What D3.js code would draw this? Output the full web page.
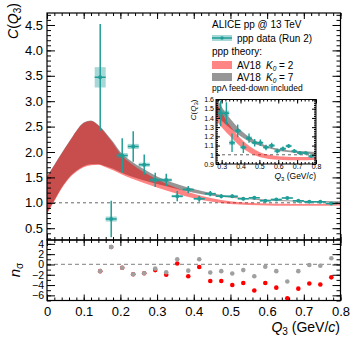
<!DOCTYPE html>
<html>
<head>
<meta charset="utf-8">
<script src="https://cdn.jsdelivr.net/npm/d3@7"></script>
<style>
  body { margin: 0; background: #fff; }
  svg { font-family: "Liberation Sans", Arial, sans-serif; }
  .axis path.domain { display: none; }
  .axis line { stroke: #000; stroke-width: 1; }
  .axis text { fill: #000; }
</style>
</head>
<body>
<div id="container"></div>
<script>
const WIDTH = 359;
const HEIGHT = 342;

// ppp data (Run 2)
const Q3 = [0.145, 0.175, 0.205, 0.235, 0.265, 0.295, 0.325, 0.355, 0.385, 0.415, 0.445,
            0.475, 0.505, 0.535, 0.565, 0.595, 0.625, 0.655, 0.685, 0.715, 0.745, 0.775];
const C_VAL = [3.47, 0.68, 1.93, 2.11, 1.75, 1.45, 1.45, 1.13, 1.26, 1.08, 1.18,
               1.13, 1.13, 1.08, 1.10, 1.04, 1.065, 1.095, 1.04, 1.02, 1.02, 0.985];
const C_STAT = [1.05, 0.36, 0.34, 0.30, 0.20, 0.14, 0.12, 0.10, 0.07, 0.06, 0.05,
                0.04, 0.035, 0.03, 0.03, 0.025, 0.025, 0.02, 0.02, 0.02, 0.015, 0.015];
const C_SYST = [0.2, 0.05, 0.05, 0.05, 0.04, 0.035, 0.03, 0.025, 0.02, 0.02, 0.02,
                0.015, 0.015, 0.015, 0.015, 0.015, 0.015, 0.015, 0.015, 0.015, 0.015, 0.015];
const BIN_HALF = 0.015;

// theory bands
const BAND_Q = [0, 0.02, 0.04, 0.06, 0.08, 0.10, 0.12, 0.14, 0.16, 0.18, 0.20, 0.23,
                0.26, 0.30, 0.35, 0.40, 0.45, 0.50, 0.55, 0.60, 0.65, 0.70, 0.75, 0.80];
const K7_HI = [1.53, 1.75, 1.98, 2.2, 2.42, 2.58, 2.62, 2.53, 2.38, 2.2, 2.0, 1.82,
               1.68, 1.52, 1.38, 1.27, 1.19, 1.13, 1.09, 1.065, 1.05, 1.04, 1.035, 1.03];
const K7_LO = [0.8, 1.05, 1.3, 1.5, 1.63, 1.72, 1.76, 1.76, 1.72, 1.67, 1.6, 1.52,
               1.45, 1.37, 1.28, 1.2, 1.14, 1.1, 1.07, 1.045, 1.03, 1.02, 1.01, 1.005];
const K2_HI = [1.51, 1.74, 1.97, 2.19, 2.41, 2.57, 2.61, 2.52, 2.36, 2.17, 1.96, 1.77,
               1.62, 1.46, 1.3, 1.18, 1.09, 1.03, 1.0, 0.985, 0.98, 0.975, 0.975, 0.975];
const K2_LO = [0.78, 1.03, 1.28, 1.48, 1.61, 1.7, 1.74, 1.75, 1.7, 1.64, 1.57, 1.48,
               1.4, 1.3, 1.19, 1.09, 1.02, 0.975, 0.955, 0.945, 0.94, 0.94, 0.94, 0.945];

// n_sigma deviations
const NSIG_K7 = [-1.3, 3.4, -0.65, -1.9, -1.7, -0.8, -1.5, 1.0, -1.2, 1.0, -1.55,
                 -1.3, -1.75, -1.1, -2.3, -0.45, -1.3, -3.3, -1.3, -0.1, -0.25, 1.2];
const NSIG_K2 = [-1.3, 3.4, -0.65, -1.9, -1.7, -1.1, -2.0, 0.2, -2.3, -0.5, -3.2,
                 -3.2, -4.0, -3.6, -5.05, -3.6, -4.5, -6.55, -4.7, -3.7, -3.9, -2.5];

const X_TICKS = [0, 0.1, 0.2, 0.3, 0.4, 0.5, 0.6, 0.7, 0.8];
const Y_TICKS = [0.5, 1.0, 1.5, 2.0, 2.5, 3.0, 3.5, 4.0, 4.5];
const N_TICKS = [-6, -4, -2, 0, 2, 4];
const INSET_X_TICKS = [0.3, 0.4, 0.5, 0.6, 0.7, 0.8];
const INSET_Y_TICKS = [0.9, 1.0, 1.1, 1.2, 1.3, 1.4, 1.5, 1.6];

const TEAL = '#1f9e98';
const GRAY = '#969696';

const svg = d3.select('#container').append('svg')
    .attr('width', WIDTH)
    .attr('height', HEIGHT);

// Scales
const x = d3.scaleLinear().domain([0, 0.8]).range([47, 340.5]);
const y = d3.scaleLinear().domain([0.268, 4.736]).range([240, 13]);
const yn = d3.scaleLinear().domain([-7, 4.75]).range([300.5, 240]);
const xi = d3.scaleLinear().domain([0.27, 0.8]).range([216, 316]);
const yi = d3.scaleLinear().domain([0.9, 1.6]).range([164, 99.5]);

const data = Q3.map((q, i) => ({ q, c: C_VAL[i], stat: C_STAT[i], syst: C_SYST[i],
                                  n7: NSIG_K7[i], n2: NSIG_K2[i] }));
const k7 = BAND_Q.map((q, i) => ({ q, lo: K7_LO[i], hi: K7_HI[i] }));
const k2 = BAND_Q.map((q, i) => ({ q, lo: K2_LO[i], hi: K2_HI[i] }));

const defs = svg.append('defs');
function clip(id, sx, sy) {
  defs.append('clipPath').attr('id', id).append('rect')
      .attr('x', sx.range()[0]).attr('y', sy.range()[1])
      .attr('width', sx.range()[1] - sx.range()[0])
      .attr('height', sy.range()[0] - sy.range()[1]);
}
clip('clipMain', x, y);
clip('clipLow', x, yn);
clip('clipInset', xi, yi);

// draws bands, dashed line and data into a panel
function drawPanel(g, sx, sy, r, lw) {
  g.append('line')
      .attr('x1', sx.range()[0]).attr('x2', sx.range()[1])
      .attr('y1', sy(1)).attr('y2', sy(1))
      .attr('stroke', '#666').attr('stroke-dasharray', '3,3').attr('stroke-width', 1);
  const area = d3.area().curve(d3.curveMonotoneX)
      .x(d => sx(d.q)).y0(d => sy(d.lo)).y1(d => sy(d.hi));
  g.append('path').datum(k7).attr('d', area).attr('fill', GRAY);
  g.append('path').datum(k2).attr('d', area).attr('fill', '#ff0000').attr('fill-opacity', 0.48);
  g.selectAll('rect.syst').data(data).join('rect')
      .attr('class', 'syst')
      .attr('x', d => sx(d.q - BIN_HALF))
      .attr('width', d => sx(d.q + BIN_HALF) - sx(d.q - BIN_HALF))
      .attr('y', d => sy(d.c + d.syst))
      .attr('height', d => sy(d.c - d.syst) - sy(d.c + d.syst))
      .attr('fill', TEAL).attr('fill-opacity', 0.4);
  g.selectAll('line.stat').data(data).join('line')
      .attr('class', 'stat')
      .attr('x1', d => sx(d.q)).attr('x2', d => sx(d.q))
      .attr('y1', d => sy(d.c - d.stat)).attr('y2', d => sy(d.c + d.stat))
      .attr('stroke', TEAL).attr('stroke-width', lw);
  g.selectAll('line.bin').data(data).join('line')
      .attr('class', 'bin')
      .attr('x1', d => sx(d.q - BIN_HALF)).attr('x2', d => sx(d.q + BIN_HALF))
      .attr('y1', d => sy(d.c)).attr('y2', d => sy(d.c))
      .attr('stroke', TEAL).attr('stroke-width', lw);
  g.selectAll('circle.pt').data(data).join('circle')
      .attr('class', 'pt')
      .attr('cx', d => sx(d.q)).attr('cy', d => sy(d.c)).attr('r', r)
      .attr('fill', TEAL);
}

// frame with ROOT style ticks on all sides
function frame(sx, sy, xt, yt, opt) {
  const g = svg.append('g');
  const h = sy.range()[0] - sy.range()[1];
  const w = sx.range()[1] - sx.range()[0];
  const addAxis = (axis, tr, size) => g.append('g').attr('class', 'axis')
      .attr('transform', tr).call(axis)
      .selectAll('text').style('font-size', (size || opt.font) + 'px');
  // bottom & top
  addAxis(d3.axisBottom(sx).tickValues(xt.major).tickSize(-opt.xMaj)
      .tickFormat(opt.xLabels ? opt.xFmt : '').tickPadding(opt.xPad),
      'translate(0,' + sy.range()[0] + ')');
  addAxis(d3.axisBottom(sx).tickValues(xt.minor).tickSize(-opt.xMaj / 2).tickFormat(''),
      'translate(0,' + sy.range()[0] + ')');
  addAxis(d3.axisTop(sx).tickValues(xt.major).tickSize(-opt.xMaj).tickFormat(''),
      'translate(0,' + sy.range()[1] + ')');
  addAxis(d3.axisTop(sx).tickValues(xt.minor).tickSize(-opt.xMaj / 2).tickFormat(''),
      'translate(0,' + sy.range()[1] + ')');
  // left & right
  addAxis(d3.axisLeft(sy).tickValues(yt.major).tickSize(-opt.yMaj)
      .tickFormat(opt.yFmt).tickPadding(opt.yPad),
      'translate(' + sx.range()[0] + ',0)', opt.yFont);
  addAxis(d3.axisLeft(sy).tickValues(yt.minor).tickSize(-opt.yMaj / 2).tickFormat(''),
      'translate(' + sx.range()[0] + ',0)');
  addAxis(d3.axisRight(sy).tickValues(yt.major).tickSize(-opt.yMaj).tickFormat(''),
      'translate(' + sx.range()[1] + ',0)');
  addAxis(d3.axisRight(sy).tickValues(yt.minor).tickSize(-opt.yMaj / 2).tickFormat(''),
      'translate(' + sx.range()[1] + ',0)');
  g.append('rect').attr('x', sx.range()[0]).attr('y', sy.range()[1])
      .attr('width', w).attr('height', h)
      .attr('fill', 'none').attr('stroke', '#000').attr('stroke-width', opt.lw);
}

const steps = (a, b, s) => d3.range(Math.round((b - a) / s) + 1).map(i => +(a + i * s).toFixed(3));
const xMinor = steps(0, 0.8, 0.02);
const fmtMinus = v => (v < 0 ? '\u2212' + Math.abs(v) : '' + v);

// Upper panel
const gMain = svg.append('g').attr('clip-path', 'url(#clipMain)');
drawPanel(gMain, x, y, 2, 1.5);
frame(x, y, { major: X_TICKS, minor: xMinor }, { major: Y_TICKS, minor: steps(0.3, 4.7, 0.1) },
      { xMaj: 6, yMaj: 8, font: 13, xLabels: false, yFmt: d3.format('.1f'), yPad: 4, xPad: 4, lw: 1.2 });

// Lower panel
const gLow = svg.append('g').attr('clip-path', 'url(#clipLow)');
gLow.append('line')
    .attr('x1', x(0)).attr('x2', x(0.8)).attr('y1', yn(0)).attr('y2', yn(0))
    .attr('stroke', '#999').attr('stroke-dasharray', '4,3').attr('stroke-width', 1.2);
gLow.selectAll('circle.k2').data(data).join('circle')
    .attr('class', 'k2')
    .attr('cx', d => x(d.q)).attr('cy', d => yn(d.n2)).attr('r', 2.3).attr('fill', '#ff0000');
gLow.selectAll('circle.k7').data(data).join('circle')
    .attr('class', 'k7')
    .attr('cx', d => x(d.q)).attr('cy', d => yn(d.n7)).attr('r', 2.3).attr('fill', '#a0a0a0');
frame(x, yn, { major: X_TICKS, minor: xMinor }, { major: N_TICKS, minor: steps(-7, 4, 1) },
      { xMaj: 6, yMaj: 8, font: 13, yFont: 10.5, xLabels: true,
        xFmt: d => (d === 0 ? '0' : d3.format('.1f')(d)),
        yFmt: fmtMinus, yPad: 3, xPad: 6, lw: 1.2 });

// Inset
svg.append('rect').attr('x', xi.range()[0]).attr('y', yi.range()[1])
    .attr('width', xi.range()[1] - xi.range()[0]).attr('height', yi.range()[0] - yi.range()[1])
    .attr('fill', '#fff');
const gIn = svg.append('g').attr('clip-path', 'url(#clipInset)');
drawPanel(gIn, xi, yi, 1.8, 1.4);
frame(xi, yi, { major: INSET_X_TICKS, minor: steps(0.28, 0.8, 0.02) },
      { major: INSET_Y_TICKS, minor: steps(0.9, 1.6, 0.02) },
      { xMaj: 4, yMaj: 4, font: 7, xLabels: true, xFmt: d3.format('.1f'),
        yFmt: d => (d === 1 ? '1' : d3.format('.1f')(d)), yPad: 2, xPad: 0, lw: 1 });

// Axis titles
const yTitle = svg.append('text')
    .attr('transform', 'translate(18,3) rotate(-90)')
    .attr('text-anchor', 'end').style('font-size', '14px');
yTitle.append('tspan').style('font-style', 'italic').text('C');
yTitle.append('tspan').text('(');
yTitle.append('tspan').style('font-style', 'italic').text('Q');
yTitle.append('tspan').attr('dy', 3).style('font-size', '10px').text('3');
yTitle.append('tspan').attr('dy', -3).text(')');

const nTitle = svg.append('text')
    .attr('transform', 'translate(20,270) rotate(-90)')
    .attr('text-anchor', 'middle').style('font-size', '15px');
nTitle.append('tspan').style('font-style', 'italic').text('n');
nTitle.append('tspan').attr('dy', 3).style('font-size', '10px').text('\u03c3');

function qTitle(sel, subSize, dy) {
  sel.append('tspan').style('font-style', 'italic').text('Q');
  sel.append('tspan').attr('dy', dy).style('font-size', subSize + 'px').text('3');
  sel.append('tspan').attr('dy', -dy).text(' (GeV/');
  sel.append('tspan').style('font-style', 'italic').text('c');
  sel.append('tspan').text(')');
}
qTitle(svg.append('text').attr('x', 340).attr('y', 332).attr('text-anchor', 'end')
    .style('font-size', '14px'), 10, 3);
qTitle(svg.append('text').attr('x', 316).attr('y', 179).attr('text-anchor', 'end')
    .style('font-size', '8.5px'), 6, 2);

const iTitle = svg.append('text')
    .attr('transform', 'translate(196,99.5) rotate(-90)')
    .attr('text-anchor', 'end').style('font-size', '8px');
iTitle.append('tspan').style('font-style', 'italic').text('C');
iTitle.append('tspan').text('(');
iTitle.append('tspan').style('font-style', 'italic').text('Q');
iTitle.append('tspan').attr('dy', 2).style('font-size', '6px').text('3');
iTitle.append('tspan').attr('dy', -2).text(')');

// Legend
const leg = svg.append('g').style('font-size', '10px');
leg.append('text').attr('x', 212).attr('y', 28).text('ALICE pp @ 13 TeV');
leg.append('rect').attr('x', 212).attr('y', 35).attr('width', 20).attr('height', 6)
    .attr('fill', TEAL).attr('fill-opacity', 0.4);
leg.append('line').attr('x1', 212).attr('x2', 232).attr('y1', 38).attr('y2', 38)
    .attr('stroke', TEAL).attr('stroke-width', 1.5);
leg.append('circle').attr('cx', 222).attr('cy', 38).attr('r', 1.8).attr('fill', TEAL);
leg.append('text').attr('x', 237).attr('y', 41.5).text('ppp data (Run 2)');
leg.append('text').attr('x', 212).attr('y', 55).text('ppp theory:');
leg.append('rect').attr('x', 212).attr('y', 61).attr('width', 20).attr('height', 8)
    .attr('fill', '#ff0000').attr('fill-opacity', 0.48);
leg.append('rect').attr('x', 212).attr('y', 73).attr('width', 20).attr('height', 8)
    .attr('fill', GRAY);
[['2', 69], ['7', 81]].forEach(([k, yy]) => {
  leg.append('text').attr('x', 237).attr('y', yy).text('AV18');
  const t = leg.append('text').attr('x', 266).attr('y', yy);
  t.append('tspan').style('font-style', 'italic').text('K');
  t.append('tspan').attr('dy', 1.5).style('font-size', '6.5px').style('font-style', 'italic').text('0');
  t.append('tspan').attr('dy', -1.5).text(' = ' + k);
});
leg.append('text').attr('x', 212).attr('y', 91).style('font-size', '8.5px')
    .text('pp\u039b feed-down included');
</script>
</body>
</html>
